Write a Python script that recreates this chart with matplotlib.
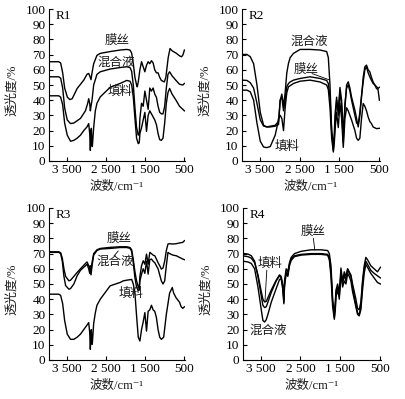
import matplotlib
matplotlib.use("Agg")
import matplotlib.pyplot as plt

plt.rcParams['font.family'] = ['Liberation Serif', 'Noto Sans CJK SC', 'DejaVu Sans']

# ---------------------------
# DATA (wavenumber cm-1, transmittance %)
# ---------------------------
XTICKS = [3500, 2500, 1500, 500]
XTICK_LABELS = ['3 500', '2 500', '1 500', '500']
YTICKS = [0, 10, 20, 30, 40, 50, 60, 70, 80, 90, 100]

# R1
R1_MOSI_X = [3950, 3700, 3652, 3600, 3550, 3480, 3416, 3356, 3230, 3061, 2976, 2934, 2908, 2875, 2849,
             2807, 2723, 2638, 2385, 2131, 1962, 1878, 1835, 1793, 1751, 1709, 1692, 1666, 1624, 1582,
             1540, 1497, 1455, 1413, 1371, 1328, 1286, 1244, 1202, 1159, 1117, 1075, 1000, 960, 900,
             853, 800, 700, 600, 555, 520, 485]
R1_MOSI_Y = [65.3, 65.3, 64.5, 58, 48, 42, 40.4, 41, 47.7, 53.2, 57.1, 57.6, 56, 53.5, 58,
             64, 69.5, 70.8, 72, 73, 73.4, 73, 71, 64, 55, 50, 48.8, 52, 60, 65.3,
             62, 58.7, 63, 65.3, 64, 66, 64.5, 60, 58, 58, 55, 53, 52, 55, 68,
             74, 72.5, 71, 69, 68.6, 70, 73]

R1_MIX_X = [3950, 3700, 3652, 3600, 3550, 3483, 3399, 3314, 3145, 3018, 2959, 2934, 2908, 2892, 2875,
            2849, 2807, 2723, 2638, 2385, 2131, 1962, 1878, 1835, 1793, 1751, 1709, 1666, 1641, 1624,
            1582, 1540, 1497, 1455, 1413, 1371, 1328, 1286, 1244, 1202, 1159, 1117, 1075, 1033, 990,
            948, 906, 864, 800, 700, 610, 526, 485]
R1_MIX_Y = [55.4, 55.4, 54.5, 48, 35, 27, 24.6, 25, 28, 33, 38, 41, 38, 33, 36,
            40, 50, 57, 58.7, 60.5, 61.5, 62, 61.5, 59, 50, 35, 22, 17, 18, 28,
            38, 36, 46, 40, 34, 48, 46, 48, 44, 42, 36, 32, 31, 31, 36,
            48, 57, 58.7, 56, 53, 50.5, 50, 51]

R1_FILL_X = [3950, 3700, 3652, 3600, 3550, 3483, 3399, 3314, 3230, 3145, 3061, 2976, 2934, 2908, 2892,
             2875, 2866, 2849, 2841, 2807, 2765, 2723, 2638, 2385, 2131, 1962, 1878, 1835, 1793, 1751,
             1709, 1666, 1641, 1624, 1582, 1540, 1497, 1455, 1413, 1371, 1328, 1286, 1244, 1202, 1159,
             1117, 1075, 1033, 990, 948, 906, 864, 800, 700, 610, 526, 485]
R1_FILL_Y = [42.9, 42.9, 42, 37, 25, 17, 13, 13.6, 15, 17, 20, 22.5, 24.6, 18, 7,
             20, 21.5, 10, 9.5, 22, 33, 38, 42.2, 48.5, 51, 53, 52.5, 50, 42, 28,
             15, 11.4, 12, 18, 22, 27, 32, 19.5, 30, 33, 31, 29, 27, 24, 18,
             14, 13.6, 15, 25, 38, 45, 47.7, 44, 40, 36, 34, 33]

# R2
R2_X = [3950, 3824, 3741, 3657, 3573, 3489, 3406, 3322, 3238, 3113, 3029, 2987, 2945, 2903, 2862,
        2820, 2778, 2736, 2652, 2485, 2234, 1982, 1815, 1773, 1731, 1689, 1647, 1622, 1606, 1564,
        1522, 1480, 1438, 1396, 1354, 1312, 1271, 1229, 1187, 1103, 1061, 1020, 978, 936, 894,
        852, 810, 769, 727, 685, 643, 600, 559, 520, 485]
R2_MIX_Y = [70.1, 70.1, 68.6, 64, 50, 32, 23.5, 22.4, 22.4, 22.9, 24, 40, 44, 36, 45,
            58, 64.2, 68, 70.8, 73.4, 73.4, 73, 72, 68, 50, 20, 7, 15, 22, 40,
            33, 48.4, 40, 18, 35, 50, 52.1, 48, 42, 33.4, 28, 22.4, 30, 42, 55,
            62, 63.1, 60, 58.7, 55, 52, 50, 47.7, 47, 40]
R2_MOSI_Y = [53.2, 53, 51.5, 48, 38, 27, 23, 22.4, 22.9, 23.5, 26, 40, 42, 33, 40,
             48.8, 51, 52, 53.2, 54.3, 55.4, 54.3, 53, 51, 42, 20, 10, 18, 30, 42,
             30, 46, 36, 12, 38, 48, 50, 46, 40, 30, 25, 24, 32, 43, 52,
             60, 62, 58, 55.4, 53, 51, 50, 49, 47.7, 48.5]
R2_FILL_X = [3950, 3824, 3741, 3657, 3573, 3489, 3406, 3322, 3238, 3196, 3113, 3071, 3029, 2987, 2945,
             2903, 2862, 2820, 2778, 2652, 2485, 2234, 1982, 1899, 1815, 1773, 1731, 1689, 1647, 1622,
             1606, 1564, 1522, 1480, 1438, 1396, 1354, 1312, 1271, 1229, 1187, 1103, 1061, 1020, 978,
             936, 894, 852, 810, 769, 727, 685, 643, 559, 485]
R2_FILL_Y = [46.6, 46.6, 45.5, 40, 25, 13, 9.2, 8.8, 9.5, 12, 17, 22, 28, 30, 28,
             20, 35, 45, 48.8, 51, 52.5, 53.2, 52, 51, 50, 47, 35, 15, 5.9, 12,
             20, 32, 22, 38, 28, 9, 28, 35, 33, 30, 27, 20, 15, 13.6, 15,
             28, 37.8, 36, 33, 29, 26, 24.6, 22.4, 21.3, 21.5]

# R3
R3_X = [3950, 3700, 3652, 3610, 3568, 3525, 3441, 3399, 3314, 3230, 3145, 3018, 2976, 2934, 2908,
        2892, 2875, 2849, 2807, 2723, 2638, 2385, 2131, 1962, 1878, 1835, 1793, 1751, 1709, 1666,
        1641, 1624, 1582, 1540, 1497, 1455, 1413, 1371, 1328, 1286, 1244, 1202, 1159, 1117, 1075,
        1033, 990, 948, 906, 864, 779, 695, 610, 526, 485]
R3_MOSI_Y = [71.2, 71.2, 70.5, 67, 60, 55, 52.1, 52.5, 55, 57.6, 60, 63.5, 64.5, 62, 60.5,
             62, 58, 64, 70, 72.5, 73.4, 74.1, 74.5, 74.5, 74, 72.5, 66, 58, 52, 48,
             47.7, 55, 62, 65.3, 63, 69.7, 63, 70.8, 70, 69, 68.6, 66.4, 64, 62, 59.8,
             60.5, 65, 72, 76.3, 76.5, 76.3, 76.5, 77, 77.4, 78.5]
R3_MIX_Y = [70.8, 70.8, 70, 65, 55, 49, 46.6, 47, 50, 55.4, 59, 62, 63, 60, 57,
            61, 56, 62, 69, 72, 73, 73.4, 74, 74, 73.5, 71.5, 64, 54, 48, 45.5,
            46, 52, 56.5, 60, 57, 65, 56.5, 66, 66.4, 65, 64, 62, 60, 56, 52,
            50, 52, 62, 70.8, 70, 69, 68.6, 67.5, 66.4, 66]
R3_FILL_X = [3950, 3700, 3652, 3600, 3550, 3483, 3399, 3314, 3230, 3145, 3061, 2976, 2934, 2908, 2892,
             2875, 2866, 2849, 2841, 2807, 2765, 2723, 2638, 2385, 2131, 2047, 1962, 1835, 1793, 1751,
             1709, 1666, 1624, 1582, 1540, 1497, 1455, 1413, 1371, 1328, 1286, 1244, 1202, 1159, 1117,
             1075, 1016, 948, 864, 796, 760, 700, 610, 568, 526, 485]
R3_FILL_Y = [43.3, 43.3, 42.5, 37, 26, 17, 13.6, 13.6, 15, 17, 20, 23, 24.6, 18, 7,
             18, 20, 10.3, 11, 24, 31, 36, 40, 48.8, 51, 52.1, 52.5, 53, 50, 44,
             29, 15, 12.5, 20, 25, 31.2, 19, 32, 33, 36, 33, 32, 28, 20, 15,
             13.6, 15, 30, 44, 47.7, 44, 41, 38, 35, 34, 35]

# R4
R4_X = [3950, 3824, 3741, 3657, 3573, 3489, 3448, 3406, 3364, 3322, 3238, 3113, 3029, 2987, 2945,
        2920, 2903, 2862, 2820, 2778, 2736, 2652, 2485, 2234, 1982, 1815, 1773, 1731, 1689, 1647,
        1622, 1606, 1564, 1522, 1480, 1438, 1396, 1354, 1312, 1271, 1229, 1187, 1103, 1061, 1020,
        978, 936, 894, 852, 810, 727, 643, 559, 485]
R4_MOSI_Y = [70.1, 69.7, 68.6, 65, 55, 42, 36, 34.5, 35, 38, 44.4, 52, 55.5, 54, 48,
             40, 52, 60, 58, 64, 67.5, 70, 71.5, 72.5, 72.5, 72, 70, 62, 40, 28,
             35, 44, 48, 40, 58, 50, 56, 52, 60, 58, 56, 50, 40, 34, 33,
             38, 52, 62, 67.5, 66, 62, 60, 58, 61]
R4_FILL_Y = [68.5, 68, 67, 64, 56, 45, 40, 38.2, 38.5, 41, 46, 52.5, 56, 55, 49,
             38, 50, 58, 56, 63, 66.5, 68.6, 69.5, 70, 70, 69.5, 67, 58, 38, 32,
             38, 46, 50, 44, 60.5, 52, 58, 55, 59.8, 57, 55, 48, 36, 31, 30,
             35, 50, 60, 65, 63, 59, 57, 55.4, 54]
R4_MIX_Y = [65, 64.5, 63.5, 60, 48, 33, 26, 25, 26.5, 30, 38, 47, 53, 53.5, 46,
            37, 48, 57, 55, 62, 65.5, 68, 69, 69.5, 69.5, 69, 66, 55, 35, 26.8,
            33, 42, 45, 42, 56, 48, 52, 50, 57, 55, 52, 45, 35, 30, 29,
            33, 46, 57, 63, 61, 57, 54, 51, 50]

PANELS = [
    {
        'tag': 'R1',
        'rect': [49, 9, 136, 152],
        'curves': [(R1_MOSI_X, R1_MOSI_Y), (R1_MIX_X, R1_MIX_Y), (R1_FILL_X, R1_FILL_Y)],
        'notes': [('膜丝', 2200, 79), ('混合液', 2220, 64.6), ('填料', 2130, 45.5)],
        'leaders': [],
    },
    {
        'tag': 'R2',
        'rect': [242, 9, 138, 152],
        'curves': [(R2_X, R2_MIX_Y), (R2_X, R2_MOSI_Y), (R2_FILL_X, R2_FILL_Y)],
        'notes': [('混合液', 2250, 78.5), ('膜丝', 2320, 60.2), ('填料', 2820, 9.7)],
        'leaders': [((2180, 1760), (57.5, 53.5))],
    },
    {
        'tag': 'R3',
        'rect': [49, 208, 136, 152],
        'curves': [(R3_X, R3_MOSI_Y), (R3_X, R3_MIX_Y), (R3_FILL_X, R3_FILL_Y)],
        'notes': [('膜丝', 2160, 80), ('混合液', 2245, 64.6), ('填料', 1860, 43.3)],
        'leaders': [((2282, 2179), (68.6, 71.7))],
    },
    {
        'tag': 'R4',
        'rect': [243, 208, 138, 152],
        'curves': [(R4_X, R4_MOSI_Y), (R4_X, R4_FILL_Y), (R4_X, R4_MIX_Y)],
        'notes': [('膜丝', 2180, 84.4), ('填料', 3270, 63.2), ('混合液', 3313, 19.3)],
        'leaders': [((2175, 2140), (80, 72.5)), ((3350, 3396), (59, 38.4))],
    },
]

W, H = 405, 399
fig = plt.figure(figsize=(W / 100, H / 100), dpi=100)

for p in PANELS:
    left, top, width, height = p['rect']
    ax = fig.add_axes([left / W, 1 - (top + height) / H, width / W, height / H])

    for xs, ys in p['curves']:
        ax.plot(xs, ys, color='black', lw=1.0, solid_joinstyle='round')

    for text, x, y in p['notes']:
        ax.text(x, y, text, fontsize=9, ha='center', va='center', color='#1a1a1a')
    for xs, ys in p['leaders']:
        ax.plot(xs, ys, color='black', lw=0.6)

    ax.text(0.05, 0.955, p['tag'], transform=ax.transAxes, fontsize=9.5,
            ha='left', va='center')

    ax.set_xlim(3950, 470)
    ax.set_ylim(0, 100)
    ax.set_xticks(XTICKS, XTICK_LABELS)
    ax.set_yticks(YTICKS)
    ax.tick_params(direction='in', length=3, width=0.8, labelsize=9.5, pad=2.5)
    for side in ['top', 'right']:
        ax.spines[side].set_visible(False)
    for side in ['left', 'bottom']:
        ax.spines[side].set_linewidth(0.8)

    # axis titles
    fig.text((left - 37) / W, 1 - (top + 81) / H, '透光度/%', rotation=90,
             fontsize=9, ha='center', va='center', color='#1a1a1a')
    fig.text((left + width / 2) / W, 1 - (top + 178) / H, '波数/cm⁻¹',
             fontsize=9, ha='center', va='center', color='#1a1a1a')

fig.savefig('out.png', dpi=100)
